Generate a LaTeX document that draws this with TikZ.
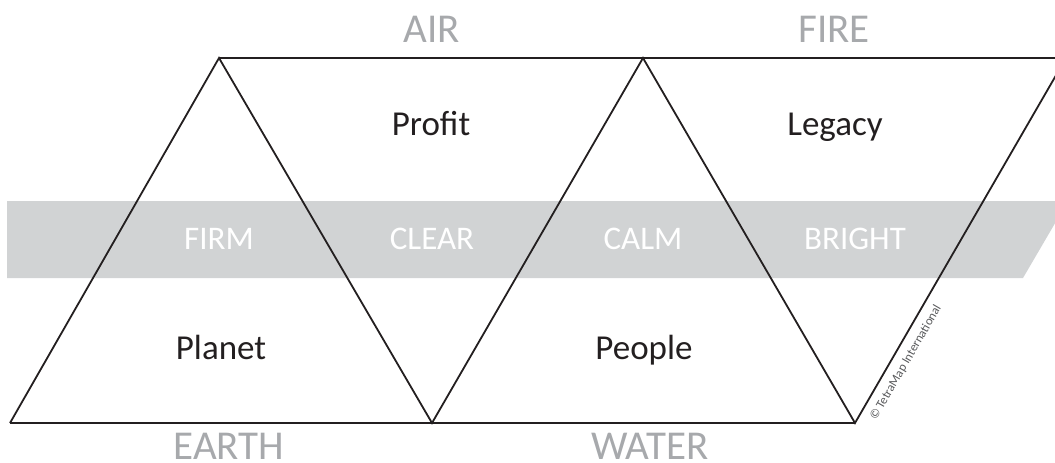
\documentclass[tikz,border=0pt]{standalone}
\usepackage{fontspec}
\setmainfont{Carlito}
\usepackage{tikz}
\usepackage{xcolor}

\definecolor{bandgrey}{HTML}{D1D3D4}
\definecolor{labelgrey}{HTML}{A7A9AC}
\definecolor{textblack}{HTML}{231F20}
\definecolor{notegrey}{HTML}{58595B}

\tikzset{
	element/.style={text=labelgrey, anchor=base, inner sep=0pt, font=\fontsize{41}{46}\selectfont},
	quality/.style={text=white, anchor=base, inner sep=0pt, font=\fontsize{33}{38}\selectfont},
	value/.style={text=textblack, anchor=base, inner sep=0pt, font=\fontsize{35}{40}\selectfont},
	edge/.style={line width=1.8pt, line join=miter, textblack}
}

\begin{document}
\begin{tikzpicture}[x=1pt, y=-1pt]
		\useasboundingbox (0,0) rectangle (1055,463);
		\clip (0,0) rectangle (1055,463);
		
		% Band
		\fill[bandgrey] (7,201) -- (1068,201) -- (1023,278) -- (7,278) -- cycle;
		
		% Corners
		\coordinate (b1) at (10,423);
		\coordinate (a1) at (219,58);
		\coordinate (b2) at (432,423);
		\coordinate (a2) at (643,58);
		\coordinate (b3) at (855,423);
		\coordinate (a3) at (1066,58);
		
		\draw[edge] (b1) -- (a1) -- (b2) -- (a2) -- (b3) -- (a3);
		\draw[edge] (a1) -- (a3);
		\draw[edge] (b1) -- (b3);
		
		% Elements
		\node[element] (air) at (432,42) {AIR};
		\node[element] (fire) at (834,42) {FIRE};
		\node[element] (earth) at (229,459) {EARTH};
		\node[element] (water) at (650,459) {WATER};
		
		% Qualities
		\node[quality] (firm) at (219,249) {FIRM};
		\node[quality] (clear) at (432,249) {CLEAR};
		\node[quality] (calm) at (643,249) {CALM};
		\node[quality] (bright) at (855,249) {BRIGHT};
		
		% Values
		\node[value] (profit) at (431,135.5) {Profit};
		\node[value] (legacy) at (835,135.5) {Legacy};
		\node[value] (planet) at (221,359) {Planet};
		\node[value] (people) at (644,359) {People};
		
		\node[rotate=60, anchor=base west, inner sep=0pt, text=notegrey, font=\fontsize{12.5}{15}\selectfont] (copyright) at (876,421) {© TetraMap International};
	\end{tikzpicture}
\end{document}
